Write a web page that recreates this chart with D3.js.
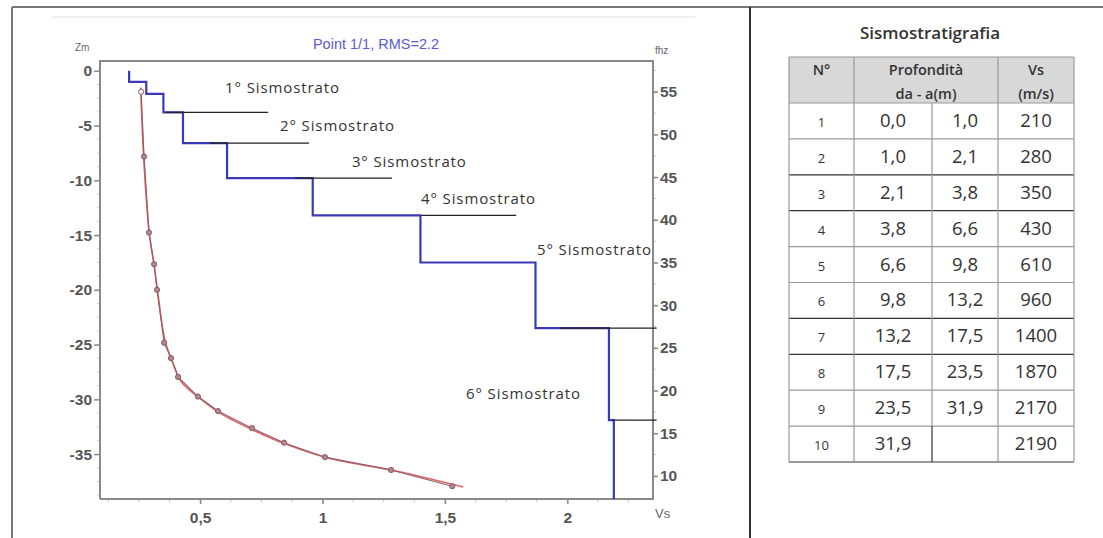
<!DOCTYPE html>
<html>
<head>
<meta charset="utf-8">
<script src="https://cdn.jsdelivr.net/npm/d3@7"></script>
<style>
  html, body { margin: 0; padding: 0; background: #fff; }
  svg { display: block; }
</style>
</head>
<body>
<svg id="chart" width="1103" height="538"></svg>
<script>
// ---------------- DATA ----------------
const layerNo     = [1, 2, 3, 4, 5, 6, 7, 8, 9, 10];
const layerTop    = [0.0, 1.0, 2.1, 3.8, 6.6, 9.8, 13.2, 17.5, 23.5, 31.9];
const layerBottom = [1.0, 2.1, 3.8, 6.6, 9.8, 13.2, 17.5, 23.5, 31.9, null];
const layerVs     = [210, 280, 350, 430, 610, 960, 1400, 1870, 2170, 2190];

// experimental dispersion curve (phase velocity km/s, frequency Hz)
const dispVel  = [0.259, 0.271, 0.291, 0.312, 0.324, 0.353, 0.381, 0.410, 0.491, 0.573, 0.712, 0.843, 1.010, 1.280, 1.530];
const dispFreq = [55.0, 47.4, 38.5, 34.8, 31.8, 25.6, 23.8, 21.6, 19.3, 17.6, 15.6, 13.9, 12.2, 10.7, 8.8];
// theoretical dispersion curve
const theoVel  = [0.257, 0.270, 0.292, 0.313, 0.327, 0.357, 0.388, 0.424, 0.503, 0.585, 0.722, 0.852, 1.022, 1.295, 1.575];
const theoFreq = [55.5, 47.0, 38.5, 34.5, 31.5, 25.8, 23.3, 21.0, 19.0, 17.3, 15.3, 13.7, 12.1, 10.6, 8.7];

// seismo-strata annotations (depth in m, velocity span in km/s)
const stratoNames   = ["1° Sismostrato", "2° Sismostrato", "3° Sismostrato", "4° Sismostrato", "5° Sismostrato", "6° Sismostrato"];
const stratoDepth   = [3.8, 6.6, 9.8, 13.2, 23.5, 31.9];
const stratoFrom    = [0.36, 0.54, 0.888, 1.403, 1.971, 2.183];
const stratoTo      = [0.778, 0.945, 1.284, 1.791, 2.365, 2.365];
const stratoLabelV  = [0.602, 0.826, 1.120, 1.402, 1.876, 1.586];
const stratoLabelZ  = [2.0, 5.5, 8.8, 12.15, 16.8, 29.95];

const zTicks = [0, -5, -10, -15, -20, -25, -30, -35];
const fTicks = [55, 50, 45, 40, 35, 30, 25, 20, 15, 10];
const vTicks = [0.5, 1, 1.5, 2];

const chartTitle = "Point 1/1, RMS=2.2";
const tableTitle = "Sismostratigrafia";

// ---------------- SETUP ----------------
const svg = d3.select("#chart");
const plot = { left: 100, top: 61, right: 653, bottom: 499 };

const x = d3.scaleLinear().domain([0.091, 2.35]).range([plot.left, plot.right]);
const yZ = d3.scaleLinear().domain([0.9, -39.1]).range([plot.top, plot.bottom]);
const yF = d3.scaleLinear().domain([58.6, 7.3]).range([plot.top, plot.bottom]);
const dec = v => d3.format(".1f")(v).replace(".", ",");
const xFmt = v => String(v).replace(".", ",");

// frame
svg.append("rect").attr("width", 1103).attr("height", 538).attr("fill", "#fff");
svg.append("line").attr("x1", 12).attr("x2", 1103).attr("y1", 7).attr("y2", 7)
  .attr("stroke", "#777").attr("stroke-width", 2);
svg.append("line").attr("x1", 12).attr("x2", 12).attr("y1", 7).attr("y2", 538)
  .attr("stroke", "#777").attr("stroke-width", 2);
svg.append("line").attr("x1", 750).attr("x2", 750).attr("y1", 7).attr("y2", 538)
  .attr("stroke", "#333").attr("stroke-width", 2);
svg.append("line").attr("x1", 52).attr("x2", 695).attr("y1", 17).attr("y2", 17)
  .attr("stroke", "#eaeaea").attr("stroke-width", 1.5);

// ---------------- AXES ----------------
const axisColor = "#8a8a8a";
const labelFont = "'Liberation Sans', Arial, sans-serif";

function styleAxis(g) {
  g.select(".domain").remove();
  g.selectAll(".tick line").attr("stroke", axisColor).attr("stroke-width", 1.5);
  g.selectAll(".tick text").attr("fill", "#555").attr("font-family", labelFont)
    .attr("font-size", 15.5).attr("font-weight", "bold");
}

// minor ticks
const minorX = d3.range(0.125, 2.35, 0.125);
svg.append("g").selectAll("line").data(minorX).join("line")
  .attr("x1", d => x(d)).attr("x2", d => x(d))
  .attr("y1", plot.bottom).attr("y2", plot.bottom + 3)
  .attr("stroke", "#bbb").attr("stroke-width", 1);
const minorZ = d3.range(0, -39.1, -1.25);
svg.append("g").selectAll("line").data(minorZ).join("line")
  .attr("x1", plot.left - 3).attr("x2", plot.left)
  .attr("y1", d => yZ(d)).attr("y2", d => yZ(d))
  .attr("stroke", "#ccc").attr("stroke-width", 1);
const minorF = d3.range(10, 58.6, 2.5);
svg.append("g").selectAll("line").data(minorF).join("line")
  .attr("x1", plot.right).attr("x2", plot.right + 3)
  .attr("y1", d => yF(d)).attr("y2", d => yF(d))
  .attr("stroke", "#ccc").attr("stroke-width", 1);

svg.append("g").attr("transform", `translate(${plot.left},0)`)
  .call(d3.axisLeft(yZ).tickValues(zTicks).tickSize(6).tickPadding(2).tickFormat(d => d === 0 ? "0" : "-" + Math.abs(d)))
  .call(styleAxis);
svg.append("g").attr("transform", `translate(${plot.right},0)`)
  .call(d3.axisRight(yF).tickValues(fTicks).tickSize(5).tickPadding(2))
  .call(styleAxis);
svg.append("g").attr("transform", `translate(0,${plot.bottom})`)
  .call(d3.axisBottom(x).tickValues(vTicks).tickSize(5).tickPadding(8).tickFormat(xFmt))
  .call(styleAxis);

// axis box (left, top, bottom, right)
svg.append("path")
  .attr("d", `M${plot.left},${plot.bottom} V${plot.top} H${plot.right} V${plot.bottom} H${plot.left}`)
  .attr("fill", "none").attr("stroke", axisColor).attr("stroke-width", 2);

// axis unit labels & title
svg.append("text").attr("x", 75).attr("y", 51).text("Zm")
  .attr("font-family", labelFont).attr("font-size", 10).attr("fill", "#666");
svg.append("text").attr("x", 655).attr("y", 54).text("fhz")
  .attr("font-family", labelFont).attr("font-size", 10).attr("fill", "#666");
svg.append("text").attr("x", 655).attr("y", 518).text("Vs")
  .attr("font-family", labelFont).attr("font-size", 13).attr("fill", "#666");
svg.append("text").attr("x", 376).attr("y", 49)
  .attr("text-anchor", "middle").text(chartTitle)
  .attr("font-family", labelFont).attr("font-size", 14.5).attr("fill", "#5a5ad2");

// ---------------- VS STEP PROFILE ----------------
const stepPts = [];
layerVs.forEach((vs, i) => {
  const v = vs / 1000;
  const top = layerTop[i];
  const bot = layerBottom[i] === null ? -yZ.domain()[1] : layerBottom[i];
  stepPts.push([v, top]);
  stepPts.push([v, bot]);
});
const stepLine = d3.line().x(d => x(d[0])).y(d => yZ(-d[1]));
svg.append("path").attr("d", stepLine(stepPts))
  .attr("fill", "none").attr("stroke", "#3a3ab8").attr("stroke-width", 2.2);

// strata marker lines
svg.append("g").selectAll("line").data(stratoDepth).join("line")
  .attr("x1", (d, i) => x(stratoFrom[i])).attr("x2", (d, i) => x(stratoTo[i]))
  .attr("y1", d => yZ(-d)).attr("y2", d => yZ(-d))
  .attr("stroke", "#222").attr("stroke-width", 1.3);

svg.append("g").selectAll("text").data(stratoNames).join("text")
  .attr("x", (d, i) => x(stratoLabelV[i])).attr("y", (d, i) => yZ(-stratoLabelZ[i]))
  .text(d => d)
  .attr("font-family", "'Open Sans', sans-serif").attr("font-size", 15)
  .attr("letter-spacing", 0.9).attr("fill", "#333");

// ---------------- DISPERSION CURVES ----------------
const theoData = theoVel.map((v, i) => [v, theoFreq[i]]);
const dispData = dispVel.map((v, i) => [v, dispFreq[i]]);
svg.append("path")
  .attr("d", d3.line().x(d => x(d[0])).y(d => yF(d[1])).curve(d3.curveCatmullRom)(theoData))
  .attr("fill", "none").attr("stroke", "#e06464").attr("stroke-width", 1.6);
svg.append("path")
  .attr("d", d3.line().x(d => x(d[0])).y(d => yF(d[1]))(dispData))
  .attr("fill", "none").attr("stroke", "#8f6068").attr("stroke-width", 1.1);
svg.append("g").selectAll("circle").data(dispData).join("circle")
  .attr("cx", d => x(d[0])).attr("cy", d => yF(d[1])).attr("r", 2.6)
  .attr("fill", (d, i) => i === 0 ? "#fff" : "#b08890")
  .attr("stroke", "#8a5a64").attr("stroke-width", 1);

// ---------------- TABLE ----------------
const colX = [789, 854, 932, 998, 1074];
const headTop = 57, headBottom = 103;
const rowY = d3.scaleBand().domain(layerNo).range([headBottom, 462]);
const tFont = "'Open Sans', sans-serif";

svg.append("text").attr("x", 930).attr("y", 39).attr("text-anchor", "middle")
  .text(tableTitle).attr("font-family", tFont).attr("font-size", 17)
  .attr("font-weight", 600).attr("fill", "#333");

svg.append("rect").attr("x", colX[0]).attr("y", headTop)
  .attr("width", colX[4] - colX[0]).attr("height", headBottom - headTop)
  .attr("fill", "#d8d8d8");

const hdr = svg.append("g").attr("font-family", tFont).attr("font-size", 14.5)
  .attr("font-weight", 600).attr("fill", "#333").attr("text-anchor", "middle");
hdr.append("text").attr("x", (colX[0] + colX[1]) / 2).attr("y", 75).text("N°");
hdr.append("text").attr("x", (colX[1] + colX[3]) / 2).attr("y", 75).text("Profondità");
hdr.append("text").attr("x", (colX[1] + colX[3]) / 2).attr("y", 99).text("da - a(m)");
hdr.append("text").attr("x", (colX[3] + colX[4]) / 2).attr("y", 75).text("Vs");
hdr.append("text").attr("x", (colX[3] + colX[4]) / 2).attr("y", 99).text("(m/s)");

const rows = svg.append("g").attr("text-anchor", "middle").attr("fill", "#333").attr("font-family", tFont);
layerNo.forEach((n, i) => {
  const yc = rowY(n) + rowY.bandwidth() / 2;
  rows.append("text").attr("x", (colX[0] + colX[1]) / 2).attr("y", yc + 6)
    .attr("font-size", 13).text(n);
  rows.append("text").attr("x", (colX[1] + colX[2]) / 2).attr("y", yc + 6)
    .attr("font-size", 18.5).text(dec(layerTop[i]));
  if (layerBottom[i] !== null)
    rows.append("text").attr("x", (colX[2] + colX[3]) / 2).attr("y", yc + 6)
      .attr("font-size", 18.5).text(dec(layerBottom[i]));
  rows.append("text").attr("x", (colX[3] + colX[4]) / 2).attr("y", yc + 6)
    .attr("font-size", 18.5).text(layerVs[i]);
});

// table grid
const grid = svg.append("g").attr("stroke", "#999").attr("stroke-width", 1.2);
grid.append("line").attr("x1", colX[0]).attr("x2", colX[4]).attr("y1", headTop).attr("y2", headTop);
grid.append("line").attr("x1", colX[0]).attr("x2", colX[4]).attr("y1", headBottom).attr("y2", headBottom);
const darkRows = [2, 3, 6, 7];
layerNo.forEach(n => {
  const yb = rowY(n) + rowY.bandwidth();
  grid.append("line").attr("x1", colX[0]).attr("x2", colX[4]).attr("y1", yb).attr("y2", yb)
    .attr("stroke", darkRows.includes(n) || n === 10 ? "#333" : "#999");
});
[0, 1, 3, 4].forEach(c => {
  grid.append("line").attr("x1", colX[c]).attr("x2", colX[c]).attr("y1", headTop).attr("y2", 462);
});
grid.append("line").attr("x1", colX[2]).attr("x2", colX[2]).attr("y1", headBottom).attr("y2", rowY(10))
  .attr("stroke", "#999");
grid.append("line").attr("x1", colX[2]).attr("x2", colX[2]).attr("y1", rowY(10)).attr("y2", 462)
  .attr("stroke", "#333");
</script>
</body>
</html>
